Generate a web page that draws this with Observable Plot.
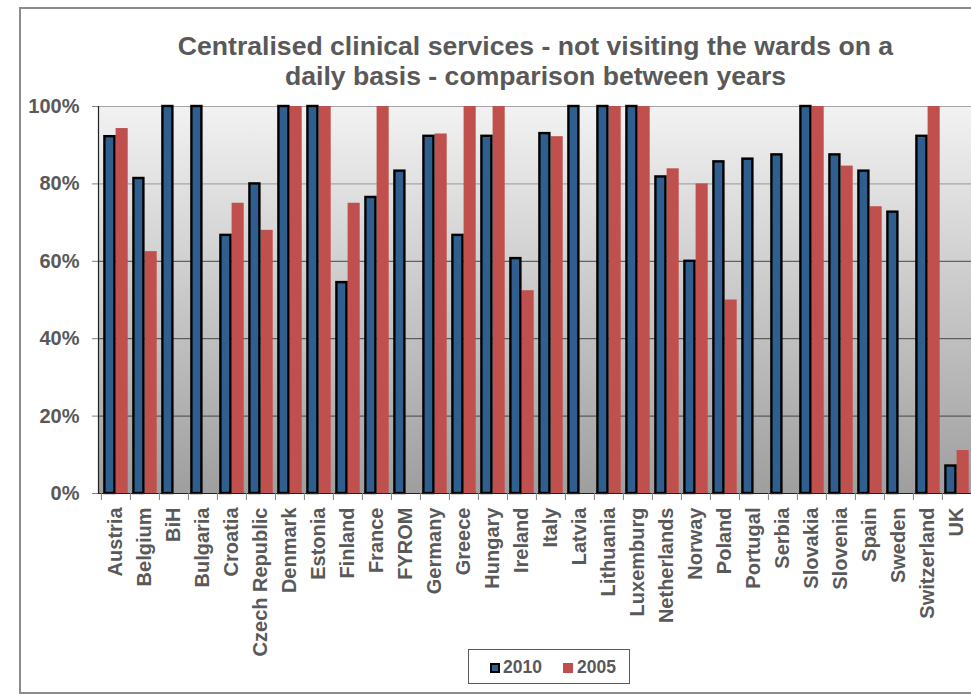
<!DOCTYPE html>
<html>
<head>
<meta charset="utf-8">
<script src="https://cdn.jsdelivr.net/npm/d3@7"></script>
<script src="https://cdn.jsdelivr.net/npm/@observablehq/plot@0.6"></script>
<style>
  html, body { margin: 0; padding: 0; background: #fff; overflow: hidden; }
  #wrap { position: relative; width: 971px; height: 697px; overflow: hidden; font-family: "Liberation Sans", Arial, sans-serif; color: #595959; }
  #frame { position: absolute; left: 19px; top: 7px; width: 1000px; height: 687px; border: 2px solid #8c8c8c; box-sizing: border-box; }
  #title { position: absolute; left: 100px; width: 871px; top: 31px; text-align: center; font-weight: bold; font-size: 26.6px; line-height: 30px; }
  #chart { position: absolute; left: 0; top: 90px; }
  #legend { position: absolute; left: 468px; top: 649px; width: 162px; height: 35px; border: 1px solid #595959; box-sizing: border-box; background: #fff; }
  .sw { position: absolute; width: 10px; height: 10px; box-sizing: border-box; }
  .lt { position: absolute; font-weight: bold; font-size: 17.5px; line-height: 20px; }
</style>
</head>
<body>
<div id="wrap">
  <div id="frame"></div>
  <div id="title">Centralised clinical services - not visiting the wards on a<br>daily basis - comparison between years</div>
  <div id="chart"></div>
  <div id="legend"></div>
</div>
<script>
const countries = ["Austria","Belgium","BiH","Bulgaria","Croatia","Czech Republic","Denmark","Estonia","Finland","France","FYROM","Germany","Greece","Hungary","Ireland","Italy","Latvia","Lithuania","Luxemburg","Netherlands","Norway","Poland","Portugal","Serbia","Slovakia","Slovenia","Spain","Sweden","Switzerland","UK"];
const values2010 = [92.2,81.4,100,100,66.7,80.0,100,100,54.5,76.5,83.3,92.3,66.7,92.3,60.7,93.0,100,100,100,81.8,60.0,85.7,86.4,87.5,100,87.5,83.3,72.7,92.3,7.1];
const values2005 = [94.3,62.5,null,null,75.0,68.0,100,100,75.0,100,null,92.9,100,100,52.4,92.2,null,100,100,83.9,80.0,50.0,null,null,100,84.6,74.1,null,100,11.1];
const seriesNames = ["2010","2005"];
const seriesColors = ["#2e5f8f","#c0504d"];
const yTicks = [0,20,40,60,80,100];

const data2010 = countries.map((c,i) => ({country: c, value: values2010[i]}));
const data2005 = countries.map((c,i) => ({country: c, value: values2005[i]})).filter(d => d.value != null);

const bw = (973 - 98) / countries.length;

const chart = Plot.plot({
  width: 971,
  height: 550,
  marginTop: 16,
  marginBottom: 147,
  marginLeft: 98,
  marginRight: 0,
  x: {type: "band", domain: countries, padding: 0, range: [98, 973], axis: null},
  y: {domain: [0, 100], axis: null},
  style: {fontFamily: "'Liberation Sans', Arial, sans-serif", fontWeight: "bold", color: "#595959", background: "transparent", overflow: "visible"},
  marks: [
    Plot.frame({fill: "url(#bgGrad)", stroke: "none"}),
    Plot.ruleY(yTicks.filter(t => t >= 80), {stroke: "#a6a6a6", strokeWidth: 1.2}),
    Plot.ruleY(yTicks.filter(t => t > 0 && t < 80), {stroke: "#454545", strokeWidth: 1}),
    Plot.barY(data2005, {x: "country", y: "value", fill: seriesColors[1], insetLeft: 14.6, insetRight: 2.3}),
    Plot.barY(data2010, {x: "country", y: "value", fill: seriesColors[0], stroke: "#000", strokeWidth: 2.4, insetLeft: 3.4, insetRight: 15.6}),
    Plot.ruleY([0], {stroke: "#222", strokeWidth: 1.2}),
    Plot.frame({anchor: "left", stroke: "#222", strokeWidth: 1.2}),
    Plot.axisY({ticks: yTicks, tickFormat: d => d + "%", tickSize: 6, tickPadding: 13, fontSize: 20, stroke: "#808080", fill: "#595959", label: null}),
    Plot.axisX({tickSize: 0, tickRotate: -90, tickPadding: 14, fontSize: 20, fill: "#595959", label: null}),
    Plot.axisX({tickSize: 7, tickFormat: () => "", dx: -bw / 2, stroke: "#808080", label: null})
  ]
});

const defs = d3.select(chart).insert("defs", ":first-child");
const grad = defs.append("linearGradient").attr("id", "bgGrad").attr("x1", 0).attr("y1", 0).attr("x2", 0).attr("y2", 1);
grad.append("stop").attr("offset", "0%").attr("stop-color", "#f2f2f2");
grad.append("stop").attr("offset", "100%").attr("stop-color", "#9e9e9e");

document.getElementById("chart").appendChild(chart);

// legend
const legend = document.getElementById("legend");
const legendLayout = [{sw: 21, tx: 34}, {sw: 94, tx: 108}];
seriesNames.forEach((name, i) => {
  const sw = document.createElement("div");
  sw.className = "sw";
  sw.style.left = legendLayout[i].sw + "px";
  sw.style.top = "13px";
  sw.style.background = seriesColors[i];
  if (i === 0) sw.style.border = "2px solid #000";
  legend.appendChild(sw);
  const t = document.createElement("div");
  t.className = "lt";
  t.style.left = legendLayout[i].tx + "px";
  t.style.top = "7px";
  t.textContent = name;
  legend.appendChild(t);
});
</script>
</body>
</html>
